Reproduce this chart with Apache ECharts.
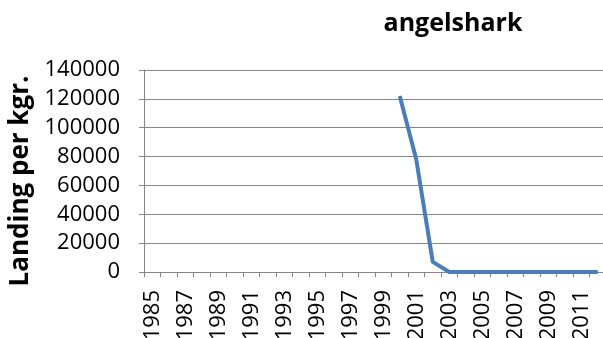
<!DOCTYPE html>
<html>
<head>
<meta charset="utf-8">
<script src="https://cdn.jsdelivr.net/npm/echarts@6/dist/echarts.min.js"></script>
<style>
  html, body { margin: 0; padding: 0; background: #ffffff; }
  #chart { width: 603px; height: 338px; }
</style>
</head>
<body>
<div id="chart"></div>
<script>
// Yearly landings of angelshark, 1985–2012 (kg); years without records are null
const years = [
  '1985','1986','1987','1988','1989','1990','1991','1992','1993','1994',
  '1995','1996','1997','1998','1999','2000','2001','2002','2003','2004',
  '2005','2006','2007','2008','2009','2010','2011','2012'
];
const landings = [
  null, null, null, null, null, null, null, null, null, null,
  null, null, null, null, null, 122000, 78000, 7000, 0, 0,
  0, 0, 0, 0, 0, 0, 0, 0
];
const yTicks = { min: 0, max: 140000, step: 20000 };

const chart = echarts.init(document.getElementById('chart'), null, { renderer: 'canvas' });
const font = '"Open Sans", "Liberation Sans", sans-serif';
const grey = '#868686';

chart.setOption({
  backgroundColor: '#ffffff',
  animation: false,
  title: {
    text: 'angelshark',
    left: 448,
    textAlign: 'center',
    top: 6,
    textStyle: { fontFamily: font, fontWeight: 'bold', fontSize: 25, color: '#000' }
  },
  // plot area runs slightly past the right edge of the canvas
  grid: { left: 144, top: 70, width: 462, height: 202, outerBoundsMode: 'none', containLabel: false },
  xAxis: {
    type: 'category',
    data: years,
    boundaryGap: true,
    axisLine: { show: true, lineStyle: { color: grey, width: 1 } },
    axisTick: { show: true, interval: 0, length: 5, lineStyle: { color: grey } },
    axisLabel: {
      interval: 1,
      rotate: 90,
      margin: 18,
      fontFamily: font,
      fontSize: 22,
      color: '#000'
    },
    splitLine: { show: false }
  },
  yAxis: {
    type: 'value',
    min: yTicks.min,
    max: yTicks.max,
    interval: yTicks.step,
    name: 'Landing per kgr.',
    nameLocation: 'middle',
    nameGap: 110,
    nameRotate: 90,
    nameTextStyle: {
      fontFamily: font, fontWeight: 'bold', fontSize: 26, color: '#000',
      padding: [0, 20, 0, 0]
    },
    axisLine: { show: true, lineStyle: { color: grey, width: 1 } },
    axisTick: { show: true, length: 5, lineStyle: { color: grey } },
    axisLabel: {
      margin: 24, fontFamily: font, fontSize: 22, color: '#000',
      formatter: (v) => String(v)
    },
    splitLine: { show: true, lineStyle: { color: grey, width: 1 } }
  },
  series: [{
    type: 'line',
    data: landings,
    showSymbol: false,
    symbol: 'none',
    connectNulls: false,
    lineStyle: { color: '#4A7EBB', width: 4 },
    itemStyle: { color: '#4A7EBB' }
  }]
});
</script>
</body>
</html>
